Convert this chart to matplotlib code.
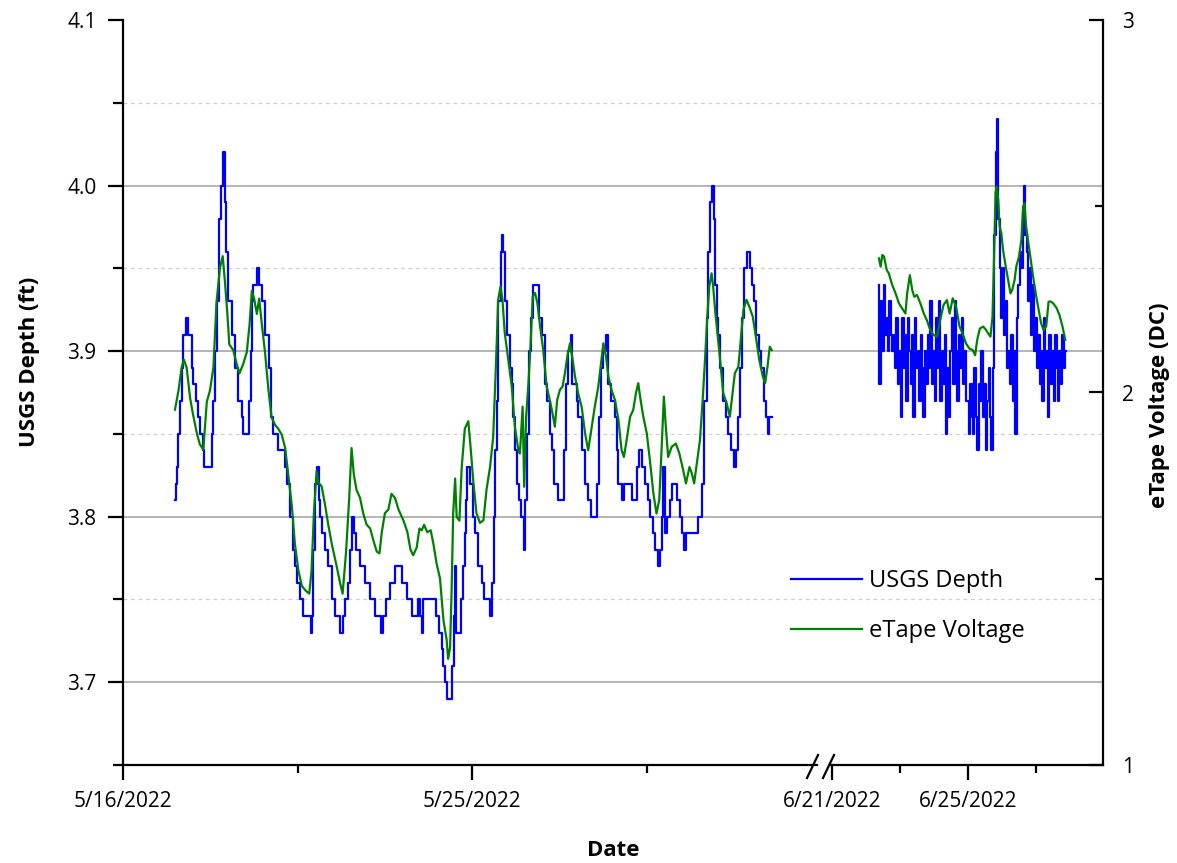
import datetime as dt
import numpy as np
import pandas as pd
import matplotlib
matplotlib.use("Agg")
import matplotlib.pyplot as plt
import matplotlib.dates as mdates
from matplotlib.lines import Line2D

plt.rcParams["font.family"] = ["Open Sans", "DejaVu Sans"]

# ---------------------------------------------------------------
# DATA
# ---------------------------------------------------------------
# segment 1: days after 5/16/2022 00:00
blue_left_t = [1.34, 1.36, 1.38, 1.43, 1.47, 1.51, 1.55, 1.62, 1.68, 1.77, 1.81, 1.87, 1.94,
               1.98, 2.05, 2.10, 2.29, 2.33, 2.37, 2.41, 2.47, 2.53, 2.59, 2.62, 2.66, 2.71,
               2.80, 2.89, 2.97, 3.06, 3.10, 3.26, 3.29, 3.32, 3.36, 3.45, 3.51, 3.57, 3.66,
               3.75, 3.81, 3.87, 4.00, 4.18, 4.23, 4.30, 4.37, 4.43, 4.48, 4.56, 4.63, 4.84,
               4.86, 4.89, 4.95, 4.99, 5.05, 5.08, 5.12, 5.21, 5.29, 5.38, 5.46, 5.60, 5.68,
               5.72, 5.81, 5.85, 5.89, 5.95, 6.01, 6.11, 6.24, 6.37, 6.49, 6.66, 6.70, 6.79,
               6.88, 6.97, 7.01, 7.18, 7.31, 7.44, 7.60, 7.66, 7.70, 7.74, 8.06, 8.15, 8.22,
               8.26, 8.30, 8.34, 8.49, 8.53, 8.56, 8.59, 8.71, 8.77, 8.81, 8.85, 8.87, 8.94,
               9.01, 9.07, 9.16, 9.24, 9.30, 9.46, 9.52, 9.56, 9.60, 9.63, 9.67, 9.73, 9.76,
               9.80, 9.84, 9.89, 9.97, 10.02, 10.06, 10.10, 10.15, 10.21, 10.25, 10.33, 10.37,
               10.42, 10.47, 10.51, 10.57, 10.72, 10.79, 10.88, 10.92, 11.00, 11.05, 11.11,
               11.22, 11.36, 11.42, 11.48, 11.54, 11.58, 11.69, 11.73, 11.82, 11.91, 11.99,
               12.05, 12.21, 12.26, 12.32, 12.38, 12.44, 12.50, 12.59, 12.68, 12.72, 12.77,
               12.85, 12.92, 13.13, 13.24, 13.30, 13.38, 13.45, 13.54, 13.58, 13.67, 13.71,
               13.78, 13.84, 13.89, 13.93, 13.96, 14.03, 14.09, 14.16, 14.29, 14.35, 14.42,
               14.47, 14.52, 14.81, 14.92, 14.98, 15.04, 15.09, 15.14, 15.18, 15.22, 15.26,
               15.30, 15.34, 15.39, 15.47, 15.54, 15.60, 15.66, 15.75, 15.79, 15.84, 15.89,
               15.95, 16.01, 16.09, 16.16, 16.22, 16.27, 16.32, 16.40, 16.45, 16.51, 16.57,
               16.62, 16.66, 16.72]
blue_left_d = [3.81, 3.82, 3.83, 3.85, 3.87, 3.89, 3.91, 3.92, 3.91, 3.89, 3.88, 3.87, 3.86,
               3.85, 3.84, 3.83, 3.85, 3.87, 3.90, 3.93, 3.98, 4.00, 4.02, 3.99, 3.96, 3.93,
               3.91, 3.89, 3.87, 3.86, 3.85, 3.87, 3.90, 3.93, 3.94, 3.95, 3.94, 3.93, 3.91,
               3.89, 3.86, 3.85, 3.84, 3.83, 3.82, 3.80, 3.78, 3.77, 3.76, 3.75, 3.74, 3.73,
               3.74, 3.78, 3.82, 3.83, 3.81, 3.80, 3.79, 3.78, 3.77, 3.75, 3.74, 3.73, 3.74,
               3.75, 3.76, 3.78, 3.80, 3.79, 3.78, 3.77, 3.76, 3.75, 3.74, 3.73, 3.74, 3.75,
               3.76, 3.76, 3.77, 3.76, 3.75, 3.74, 3.75, 3.74, 3.73, 3.75, 3.74, 3.73, 3.72,
               3.71, 3.70, 3.69, 3.71, 3.74, 3.77, 3.73, 3.75, 3.77, 3.79, 3.81, 3.83, 3.82,
               3.80, 3.79, 3.77, 3.76, 3.75, 3.74, 3.76, 3.80, 3.84, 3.87, 3.93, 3.96, 3.97,
               3.96, 3.93, 3.91, 3.89, 3.88, 3.86, 3.84, 3.82, 3.81, 3.80, 3.78, 3.81,
               3.85, 3.90, 3.92, 3.94, 3.92, 3.91, 3.88, 3.87, 3.85, 3.84, 3.82,
               3.81, 3.84, 3.88, 3.90, 3.91, 3.88, 3.87, 3.86, 3.84, 3.82, 3.81,
               3.80, 3.82, 3.86, 3.89, 3.90, 3.91, 3.88, 3.87, 3.86, 3.84, 3.82,
               3.81, 3.82, 3.81, 3.83, 3.84, 3.83, 3.82, 3.81, 3.80, 3.79, 3.78,
               3.77, 3.78, 3.80, 3.83, 3.79, 3.80, 3.81, 3.82, 3.81, 3.80, 3.79,
               3.78, 3.79, 3.80, 3.82, 3.87, 3.92, 3.96, 3.99, 4.00, 3.98, 3.94,
               3.92, 3.91, 3.89, 3.87, 3.86, 3.85, 3.84, 3.83, 3.84, 3.86, 3.89,
               3.92, 3.95, 3.96, 3.95, 3.94, 3.93, 3.91, 3.90, 3.89, 3.87, 3.86,
               3.85, 3.86, 3.86]

green_left_t = [1.34, 1.43, 1.51, 1.57, 1.64, 1.73, 1.80, 1.90, 1.98, 2.07, 2.16, 2.24, 2.33,
                2.41, 2.50, 2.57, 2.63, 2.69, 2.74, 2.84, 2.93, 3.00, 3.10, 3.19, 3.26, 3.32,
                3.38, 3.45, 3.51, 3.57, 3.66, 3.75, 3.83, 3.92, 4.00, 4.09, 4.18, 4.26, 4.35,
                4.43, 4.52, 4.61, 4.69, 4.80, 4.86, 4.92, 4.99, 5.03, 5.12, 5.21, 5.29, 5.38,
                5.51, 5.59, 5.66, 5.75, 5.83, 5.89, 5.95, 6.02, 6.11, 6.19, 6.28, 6.37, 6.45,
                6.54, 6.61, 6.67, 6.75, 6.84, 6.92, 7.01, 7.10, 7.23, 7.33, 7.41, 7.48, 7.57,
                7.64, 7.70, 7.76, 7.84, 7.93, 8.00, 8.08, 8.17, 8.26, 8.34, 8.38, 8.43, 8.47,
                8.51, 8.56, 8.60, 8.67, 8.73, 8.81, 8.90, 8.96, 9.03, 9.11, 9.20, 9.29, 9.37,
                9.46, 9.54, 9.61, 9.67, 9.73, 9.78, 9.84, 9.93, 10.02, 10.10, 10.19, 10.23,
                10.30, 10.34, 10.39, 10.45, 10.51, 10.56, 10.62, 10.68, 10.75, 10.83, 10.92,
                11.00, 11.07, 11.13, 11.19, 11.26, 11.33, 11.39, 11.45, 11.52, 11.59, 11.65,
                11.73, 11.82, 11.91, 11.99, 12.08, 12.16, 12.25, 12.31, 12.38, 12.45, 12.51,
                12.59, 12.68, 12.77, 12.85, 12.91, 12.98, 13.07, 13.15, 13.22, 13.28, 13.34,
                13.41, 13.50, 13.58, 13.67, 13.75, 13.82, 13.88, 13.94, 13.99, 14.05, 14.14,
                14.25, 14.34, 14.42, 14.51, 14.60, 14.66, 14.72, 14.80, 14.87, 14.94, 15.00,
                15.06, 15.11, 15.17, 15.21, 15.26, 15.32, 15.39, 15.47, 15.56, 15.64, 15.71,
                15.77, 15.86, 15.92, 15.99, 16.07, 16.14, 16.23, 16.31, 16.40, 16.49, 16.55,
                16.61, 16.67, 16.72]
green_left_v = [1.954, 2.005, 2.067, 2.088, 2.067, 1.985, 1.944, 1.892, 1.861, 1.846, 1.975,
                2.005, 2.067, 2.242, 2.335, 2.366, 2.294, 2.211, 2.129, 2.114, 2.077, 2.051,
                2.077, 2.108, 2.180, 2.273, 2.252, 2.211, 2.252, 2.191, 2.108, 2.005, 1.933,
                1.913, 1.903, 1.887, 1.851, 1.779, 1.697, 1.594, 1.522, 1.481, 1.470, 1.460,
                1.522, 1.676, 1.789, 1.759, 1.748, 1.697, 1.645, 1.594, 1.532, 1.491, 1.460,
                1.573, 1.717, 1.851, 1.779, 1.738, 1.717, 1.676, 1.645, 1.635, 1.604, 1.573,
                1.568, 1.625, 1.676, 1.686, 1.728, 1.717, 1.686, 1.656, 1.625, 1.578, 1.563,
                1.584, 1.635, 1.630, 1.645, 1.625, 1.630, 1.594, 1.542, 1.501, 1.388, 1.337,
                1.285, 1.316, 1.470, 1.676, 1.769, 1.666, 1.656, 1.800, 1.903, 1.923, 1.851,
                1.759, 1.676, 1.650, 1.657, 1.740, 1.800, 1.880, 2.069, 2.249, 2.285, 2.249,
                2.159, 2.087, 2.016, 1.908, 1.845, 1.836, 1.962, 1.747, 1.935, 2.025, 2.141,
                2.258, 2.267, 2.240, 2.177, 2.114, 2.016, 1.980, 1.944, 1.908, 1.980, 2.007,
                2.016, 2.052, 2.096, 2.132, 2.087, 2.043, 1.998, 1.962, 1.890, 1.845, 1.908,
                1.962, 2.016, 2.069, 2.132, 2.096, 2.043, 2.007, 1.980, 1.926, 1.845, 1.827,
                1.872, 1.935, 1.953, 1.998, 2.025, 1.980, 1.935, 1.890, 1.818, 1.729, 1.675,
                1.711, 1.845, 1.989, 1.908, 1.827, 1.854, 1.863, 1.836, 1.800, 1.756, 1.800,
                1.783, 1.756, 1.818, 1.872, 1.980, 2.087, 2.204, 2.285, 2.320, 2.285, 2.222,
                2.159, 2.087, 1.998, 1.971, 1.935, 1.998, 2.052, 2.069, 2.141, 2.222, 2.249,
                2.231, 2.204, 2.150, 2.087, 2.043, 2.025, 2.069, 2.123, 2.114]

# segment 2: USGS depth, hourly from 6/22/2022 09:00
blue_right_start = "2022-06-22 09:00"
blue_right_d = [3.94, 3.88, 3.93, 3.90, 3.94, 3.91, 3.92, 3.90, 3.93, 3.91, 3.90,
                3.91, 3.89, 3.92, 3.88, 3.90, 3.86, 3.92, 3.89, 3.91, 3.87, 3.92, 3.90, 3.88,
                3.91, 3.86, 3.92, 3.89, 3.90, 3.87, 3.91, 3.89, 3.86, 3.90, 3.88, 3.91, 3.89,
                3.93, 3.88, 3.90, 3.87, 3.92, 3.89, 3.93, 3.87, 3.90, 3.88, 3.91, 3.85, 3.89,
                3.86, 3.90, 3.92, 3.88, 3.93, 3.90, 3.87, 3.91, 3.89, 3.92, 3.88, 3.90, 3.87,
                3.87, 3.85, 3.88, 3.86, 3.85, 3.89, 3.86, 3.84, 3.88, 3.87, 3.90, 3.86, 3.88,
                3.84, 3.87, 3.89, 3.86, 3.84,
                3.89, 3.97, 4.02, 4.04, 3.98,
                3.95, 3.92, 3.95, 3.91, 3.93, 3.89, 3.90, 3.88, 3.91, 3.87, 3.90, 3.85, 3.92,
                3.94,
                3.96, 3.95, 3.98, 4.00, 3.97, 3.96, 3.93,
                3.95, 3.91, 3.94, 3.90, 3.92, 3.89, 3.91, 3.88,
                3.90, 3.87, 3.92, 3.89, 3.90, 3.86, 3.91, 3.88, 3.90, 3.87, 3.91, 3.89, 3.87,
                3.90, 3.88, 3.91, 3.89, 3.90]

# segment 2: eTape voltage, days after 6/21/2022 00:00
green_right_t = [1.38, 1.43, 1.48, 1.53, 1.61, 1.67, 1.77, 1.87, 1.97, 2.06, 2.16, 2.21, 2.29,
                 2.36, 2.42, 2.50, 2.60, 2.70, 2.79, 2.89, 2.99, 3.09, 3.18, 3.28, 3.38, 3.46,
                 3.55, 3.65, 3.75, 3.84, 3.94, 4.04, 4.14, 4.21, 4.27, 4.35, 4.45, 4.53, 4.59,
                 4.66, 4.72, 4.76, 4.81, 4.84, 4.89, 4.93, 4.98, 5.03, 5.11, 5.18, 5.25, 5.30,
                 5.37, 5.42, 5.50, 5.57, 5.62, 5.66, 5.71, 5.79, 5.86, 5.93, 6.01, 6.08, 6.15,
                 6.22, 6.30, 6.37, 6.44, 6.51, 6.61, 6.69, 6.78, 6.86]
green_right_v = [2.360, 2.338, 2.369, 2.365, 2.329, 2.320, 2.289, 2.266, 2.239, 2.226, 2.212,
                 2.266, 2.315, 2.275, 2.257, 2.262, 2.239, 2.212, 2.194, 2.168, 2.154, 2.150,
                 2.194, 2.235, 2.248, 2.212, 2.253, 2.230, 2.177, 2.159, 2.132, 2.118, 2.114,
                 2.100, 2.141, 2.172, 2.177, 2.168, 2.159, 2.150, 2.203, 2.338, 2.535, 2.553,
                 2.517, 2.446, 2.428, 2.383, 2.338, 2.302, 2.266, 2.275, 2.302, 2.338, 2.365,
                 2.410, 2.499, 2.508, 2.446, 2.392, 2.347, 2.302, 2.257, 2.221, 2.186, 2.168,
                 2.177, 2.244, 2.244, 2.239, 2.226, 2.208, 2.177, 2.141]

x_major_left = ["5/16/2022", "5/25/2022"]
x_major_right = ["6/21/2022", "6/25/2022"]
depth_ticks = [3.7, 3.8, 3.9, 4.0, 4.1]
volt_ticks = [1, 2, 3]

# ---------------------------------------------------------------
# LAYOUT
# ---------------------------------------------------------------
W, H = 1177, 863
fig = plt.figure(figsize=(W / 100, H / 100), dpi=100)


def fx(px):
    return px / W


def fy(py):
    return 1 - py / H


y0 = fy(765)
hgt = fy(20) - fy(765)
start5 = mdates.date2num(dt.datetime(2022, 5, 16))
start6 = mdates.date2num(dt.datetime(2022, 6, 21))

BLUE = "#0000ff"
GREEN = "#008000"
LW = 1.6
TICK_FS = 15

# background axes carries the grid across the break
bg = fig.add_axes([fx(123), y0, fx(1103) - fx(123), hgt])
bg.set_ylim(3.65, 4.1)
bg.set_xlim(0, 1)
bg.set_axis_off()
for v in [3.7, 3.8, 3.9, 4.0]:
    bg.axhline(v, color="#a0a0a0", lw=1.1, zorder=0)
for v in [3.75, 3.85, 3.95, 4.05]:
    bg.axhline(v, color="#cfcfcf", lw=0.9, ls=(0, (3, 3)), zorder=0)

axL = fig.add_axes([fx(123), y0, fx(817) - fx(123), hgt])
axR = fig.add_axes([fx(830), y0, fx(1103) - fx(830), hgt])
for a in (axL, axR):
    a.patch.set_alpha(0)
axL2 = axL.twinx()
axR2 = axR.twinx()

# data
tL = start5 + np.array(blue_left_t)
axL.plot(tL, blue_left_d, color=BLUE, lw=LW, drawstyle="steps-post")
axL2.plot(start5 + np.array(green_left_t), green_left_v, color=GREEN, lw=LW)

tR = mdates.date2num(pd.date_range(blue_right_start, periods=len(blue_right_d), freq="h").to_pydatetime())
axR.plot(tR, blue_right_d, color=BLUE, lw=LW, drawstyle="steps-mid")
axR2.plot(start6 + np.array(green_right_t), green_right_v, color=GREEN, lw=LW)

# limits
axL.set_xlim(start5, start5 + (817 - 123) / 38.8)
axR.set_xlim(start6 - 2 / 34.0, start6 + 271 / 34.0)
for a in (axL, axR):
    a.set_ylim(3.65, 4.1)
for a in (axL2, axR2):
    a.set_ylim(1, 3)

# spines
for a in (axL, axL2, axR, axR2):
    for s in a.spines.values():
        s.set_visible(False)
        s.set_linewidth(1.6)
axL.spines["left"].set_visible(True)
axL.spines["bottom"].set_visible(True)
axR.spines["bottom"].set_visible(True)
axR2.spines["right"].set_visible(True)

# x ticks
axL.set_xticks([start5, start5 + 9])
axL.set_xticklabels(x_major_left)
axL.set_xticks([start5 + 4.5, start5 + 13.5], minor=True)
axR.set_xticks([start6, start6 + 4])
axR.set_xticklabels(x_major_right)
axR.set_xticks([start6 + 2, start6 + 6], minor=True)
for a in (axL, axR):
    a.tick_params(axis="x", which="major", direction="out", length=11, width=1.6,
                  labelsize=TICK_FS, pad=8)
    a.tick_params(axis="x", which="minor", direction="out", length=6, width=1.6)

# left y ticks
axL.set_yticks(depth_ticks)
axL.set_yticklabels([f"{v:.1f}" for v in depth_ticks])
axL.set_yticks([3.65, 3.75, 3.85, 3.95, 4.05], minor=True)
axL.tick_params(axis="y", which="major", direction="out", length=11, width=1.6,
                labelsize=TICK_FS, pad=8)
axL.tick_params(axis="y", which="minor", direction="out", length=7, width=1.6)
axR.tick_params(axis="y", which="both", left=False, labelleft=False)
axL2.tick_params(axis="y", which="both", right=False, labelright=False)

# right y ticks
axR2.set_yticks(volt_ticks)
axR2.set_yticklabels([str(v) for v in volt_ticks])
axR2.set_yticks([1.5, 2.5], minor=True)
axR2.tick_params(axis="y", which="major", direction="in", length=10, width=1.6,
                 labelsize=TICK_FS, pad=14)
axR2.tick_params(axis="y", which="minor", direction="in", length=6, width=1.6)

# axis break marks
for xa, xb in [(807, 818), (823, 834)]:
    fig.add_artist(Line2D([fx(xa), fx(xb)], [fy(778), fy(755)], color="black", lw=1.6))

# labels
fig.text(fx(30), fy(362), "USGS Depth (ft)", rotation=90, ha="center", va="center",
         fontsize=16, fontweight="bold")
fig.text(fx(1160), fy(405), "eTape Voltage (DC)", rotation=90, ha="center", va="center",
         fontsize=16, fontweight="bold")
fig.text(fx(613), fy(850), "Date", ha="center", va="center", fontsize=16, fontweight="bold")

# legend
handles = [Line2D([], [], color=BLUE, lw=LW), Line2D([], [], color=GREEN, lw=LW)]
fig.legend(handles, ["USGS Depth", "eTape Voltage"], loc="upper left",
           bbox_to_anchor=(fx(782), fy(560)), frameon=False, fontsize=17,
           handlelength=3.0, handletextpad=0.3, labelspacing=1.1, borderaxespad=0)

fig.savefig("out.png", dpi=100)
